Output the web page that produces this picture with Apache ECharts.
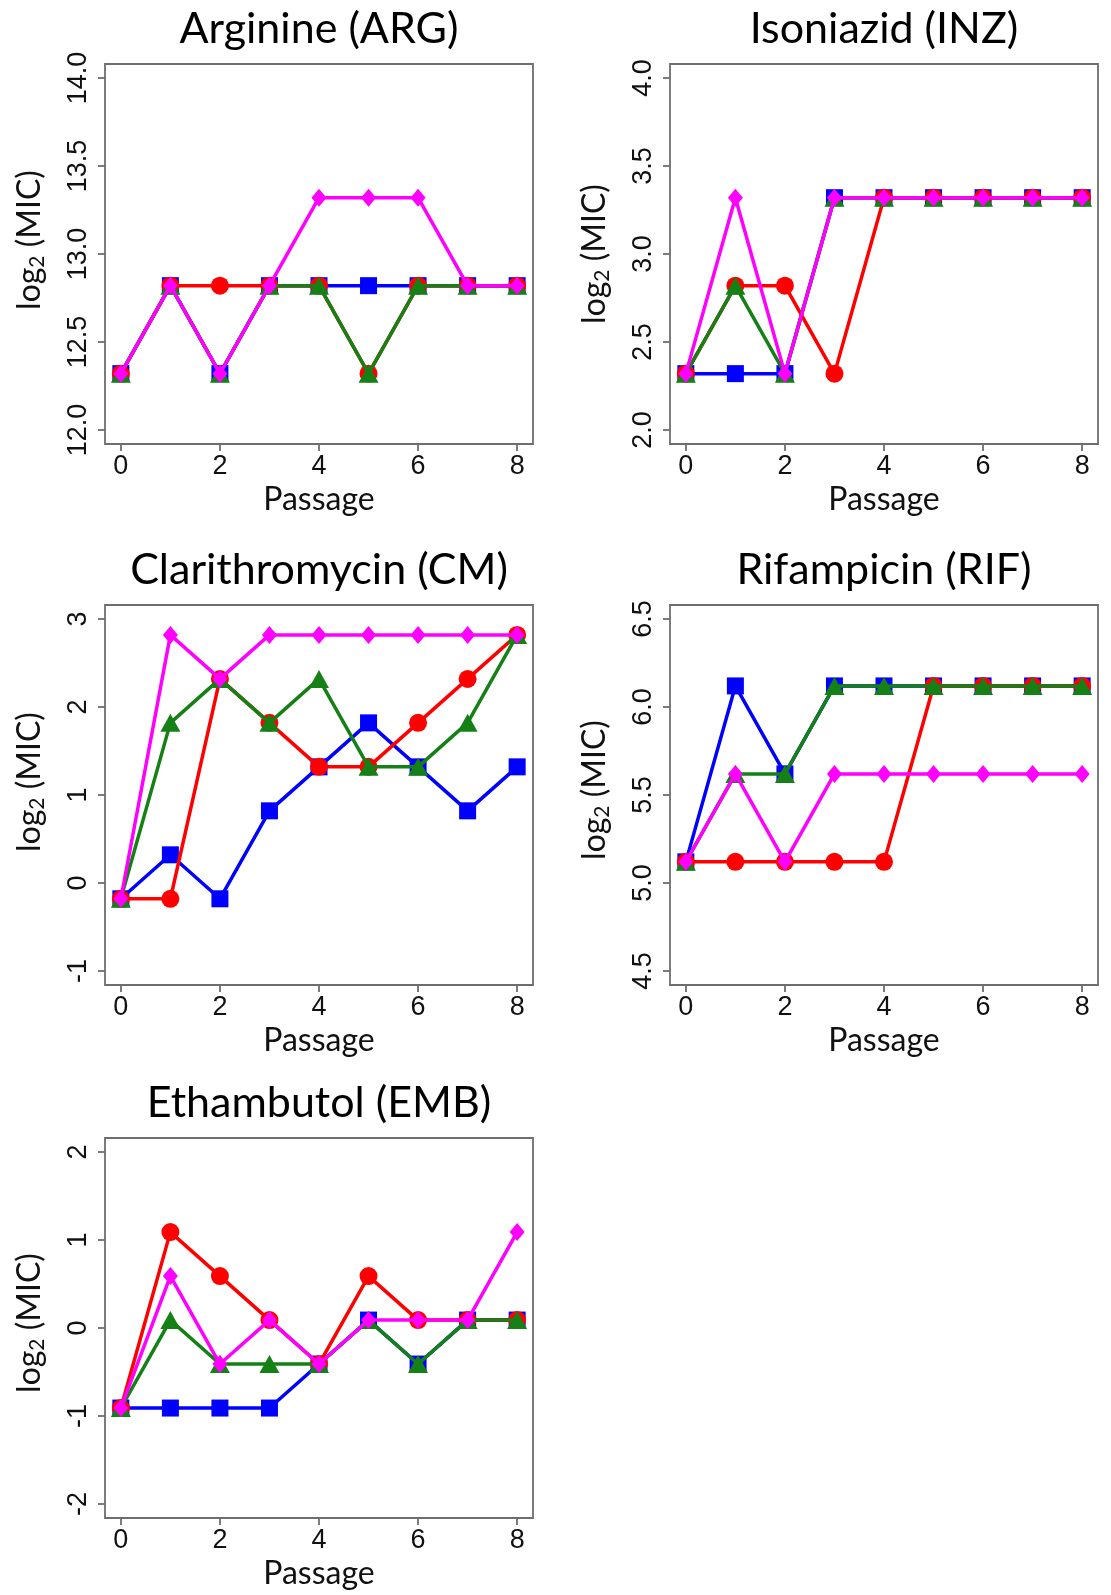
<!DOCTYPE html>
<html><head><meta charset="utf-8">
<script src="https://cdn.jsdelivr.net/npm/echarts@6/dist/echarts.min.js"></script>
<style>html,body{margin:0;padding:0;background:#fff}#c{width:1111px;height:1595px}</style>
</head><body><div id="c"></div>
<script>
// ---- data ----
const passages = [0, 1, 2, 3, 4, 5, 6, 7, 8];
const passageTicks = [0, 2, 4, 6, 8];

const argBlue    = [12.32, 12.82, 12.32, 12.82, 12.82, 12.82, 12.82, 12.82, 12.82];
const argRed     = [12.32, 12.82, 12.82, 12.82, 12.82, 12.32, 12.82, 12.82, 12.82];
const argGreen   = [12.32, 12.82, 12.32, 12.82, 12.82, 12.32, 12.82, 12.82, 12.82];
const argMagenta = [12.32, 12.82, 12.32, 12.82, 13.32, 13.32, 13.32, 12.82, 12.82];
const argTicks   = [12.0, 12.5, 13.0, 13.5, 14.0];

const inzBlue    = [2.32, 2.32, 2.32, 3.32, 3.32, 3.32, 3.32, 3.32, 3.32];
const inzRed     = [2.32, 2.82, 2.82, 2.32, 3.32, 3.32, 3.32, 3.32, 3.32];
const inzGreen   = [2.32, 2.82, 2.32, 3.32, 3.32, 3.32, 3.32, 3.32, 3.32];
const inzMagenta = [2.32, 3.32, 2.32, 3.32, 3.32, 3.32, 3.32, 3.32, 3.32];
const inzTicks   = [2.0, 2.5, 3.0, 3.5, 4.0];

const cmBlue    = [-0.18, 0.32, -0.18, 0.82, 1.32, 1.82, 1.32, 0.82, 1.32];
const cmRed     = [-0.18, -0.18, 2.32, 1.82, 1.32, 1.32, 1.82, 2.32, 2.82];
const cmGreen   = [-0.18, 1.82, 2.32, 1.82, 2.32, 1.32, 1.32, 1.82, 2.82];
const cmMagenta = [-0.18, 2.82, 2.32, 2.82, 2.82, 2.82, 2.82, 2.82, 2.82];
const cmTicks   = [-1, 0, 1, 2, 3];

const rifBlue    = [5.12, 6.12, 5.62, 6.12, 6.12, 6.12, 6.12, 6.12, 6.12];
const rifRed     = [5.12, 5.12, 5.12, 5.12, 5.12, 6.12, 6.12, 6.12, 6.12];
const rifGreen   = [5.12, 5.62, 5.62, 6.12, 6.12, 6.12, 6.12, 6.12, 6.12];
const rifMagenta = [5.12, 5.62, 5.12, 5.62, 5.62, 5.62, 5.62, 5.62, 5.62];
const rifTicks   = [4.5, 5.0, 5.5, 6.0, 6.5];

const embBlue    = [-0.91, -0.91, -0.91, -0.91, -0.41, 0.09, -0.41, 0.09, 0.09];
const embRed     = [-0.91, 1.09, 0.59, 0.09, -0.41, 0.59, 0.09, 0.09, 0.09];
const embGreen   = [-0.91, 0.09, -0.41, -0.41, -0.41, 0.09, -0.41, 0.09, 0.09];
const embMagenta = [-0.91, 0.59, -0.41, 0.09, -0.41, 0.09, 0.09, 0.09, 1.09];
const embTicks   = [-2, -1, 0, 1, 2];

const titles = ['Arginine (ARG)', 'Isoniazid (INZ)', 'Clarithromycin (CM)', 'Rifampicin (RIF)', 'Ethambutol (EMB)'];

// ---- layout / style ----
const panels = [
  {title: titles[0], ticks: argTicks, dec: 1, series: [argBlue, argRed, argGreen, argMagenta], left: 105, top: 64, shift: 14},
  {title: titles[1], ticks: inzTicks, dec: 1, series: [inzBlue, inzRed, inzGreen, inzMagenta], left: 670, top: 64, shift: 0},
  {title: titles[2], ticks: cmTicks, dec: 0, series: [cmBlue, cmRed, cmGreen, cmMagenta], left: 105, top: 605, shift: 13},
  {title: titles[3], ticks: rifTicks, dec: 1, series: [rifBlue, rifRed, rifGreen, rifMagenta], left: 670, top: 605, shift: 5},
  {title: titles[4], ticks: embTicks, dec: 0, series: [embBlue, embRed, embGreen, embMagenta], left: 105, top: 1138, shift: 5}
];
const W = 428, H = 380;
const styles = [
  {color: '#0000FF', symbol: 'rect', size: 17},
  {color: '#FF0000', symbol: 'circle', size: 18},
  {color: '#158015', symbol: 'triangle', size: [20, 18]},
  {color: '#FF00FF', symbol: 'diamond', size: [15, 18]}
];
const axisColor = '#6e6e6e';
const textColor = '#111';

const option = {animation: false, title: [], grid: [], xAxis: [], yAxis: [], series: []};
const xLo = passageTicks[0], xHi = passageTicks[passageTicks.length - 1];
const xPad = (xHi - xLo) * 0.04;

panels.forEach((p, i) => {
  const lo = p.ticks[0], hi = p.ticks[p.ticks.length - 1], pad = (hi - lo) * 0.04;
  option.grid.push({left: p.left, top: p.top, width: W, height: H, show: true,
    borderColor: axisColor, borderWidth: 1.8, backgroundColor: 'transparent'});
  option.title.push({text: p.title, left: p.left + W / 2, top: p.top - 56, textAlign: 'center', padding: 0,
    textStyle: {fontFamily: 'Lato', fontSize: 43, fontWeight: 'normal', color: '#000', lineHeight: 43}});
  option.xAxis.push({type: 'value', gridIndex: i, min: xLo - xPad, max: xHi + xPad, position: 'bottom',
    name: 'Passage', nameLocation: 'middle', nameGap: 40,
    nameTextStyle: {fontFamily: 'Lato', fontSize: 32, color: textColor, lineHeight: 32},
    axisLine: {show: false, onZero: false}, splitLine: {show: false},
    axisTick: {show: true, customValues: passageTicks, length: 7, lineStyle: {color: axisColor, width: 1.8}},
    axisLabel: {show: true, customValues: passageTicks, margin: 9, fontFamily: 'Liberation Sans', fontSize: 27,
      color: textColor, formatter: v => String(Math.round(v))}});
  option.yAxis.push({type: 'value', gridIndex: i, min: lo - pad, max: hi + pad, position: 'left',
    name: 'log{s|2} (MIC)', nameLocation: 'middle', nameRotate: 90, nameGap: 57,
    nameTextStyle: {fontFamily: 'Lato', fontSize: 32, color: textColor, lineHeight: 36, padding: [0, 0, 0, 2 * p.shift],
      rich: {s: {fontFamily: 'Lato', fontSize: 21, lineHeight: 21, verticalAlign: 'bottom', color: textColor}}},
    axisLine: {show: false, onZero: false}, splitLine: {show: false},
    axisTick: {show: true, customValues: p.ticks, length: 7, lineStyle: {color: axisColor, width: 1.8}},
    axisLabel: {show: true, customValues: p.ticks, rotate: 90, margin: 13, fontFamily: 'Liberation Sans', fontSize: 27,
      color: textColor, formatter: v => Number(v).toFixed(p.dec)}});
  p.series.forEach((vals, k) => {
    const s = styles[k];
    option.series.push({type: 'line', xAxisIndex: i, yAxisIndex: i, z: 2 + k, clip: false, silent: true,
      data: passages.map((x, j) => [x, vals[j]]),
      symbol: s.symbol, symbolSize: s.size, showSymbol: true,
      lineStyle: {color: s.color, width: 3.5}, itemStyle: {color: s.color, opacity: 1}});
  });
});

const chart = echarts.init(document.getElementById('c'), null, {renderer: 'canvas'});
chart.setOption(option);
</script>
</body></html>
